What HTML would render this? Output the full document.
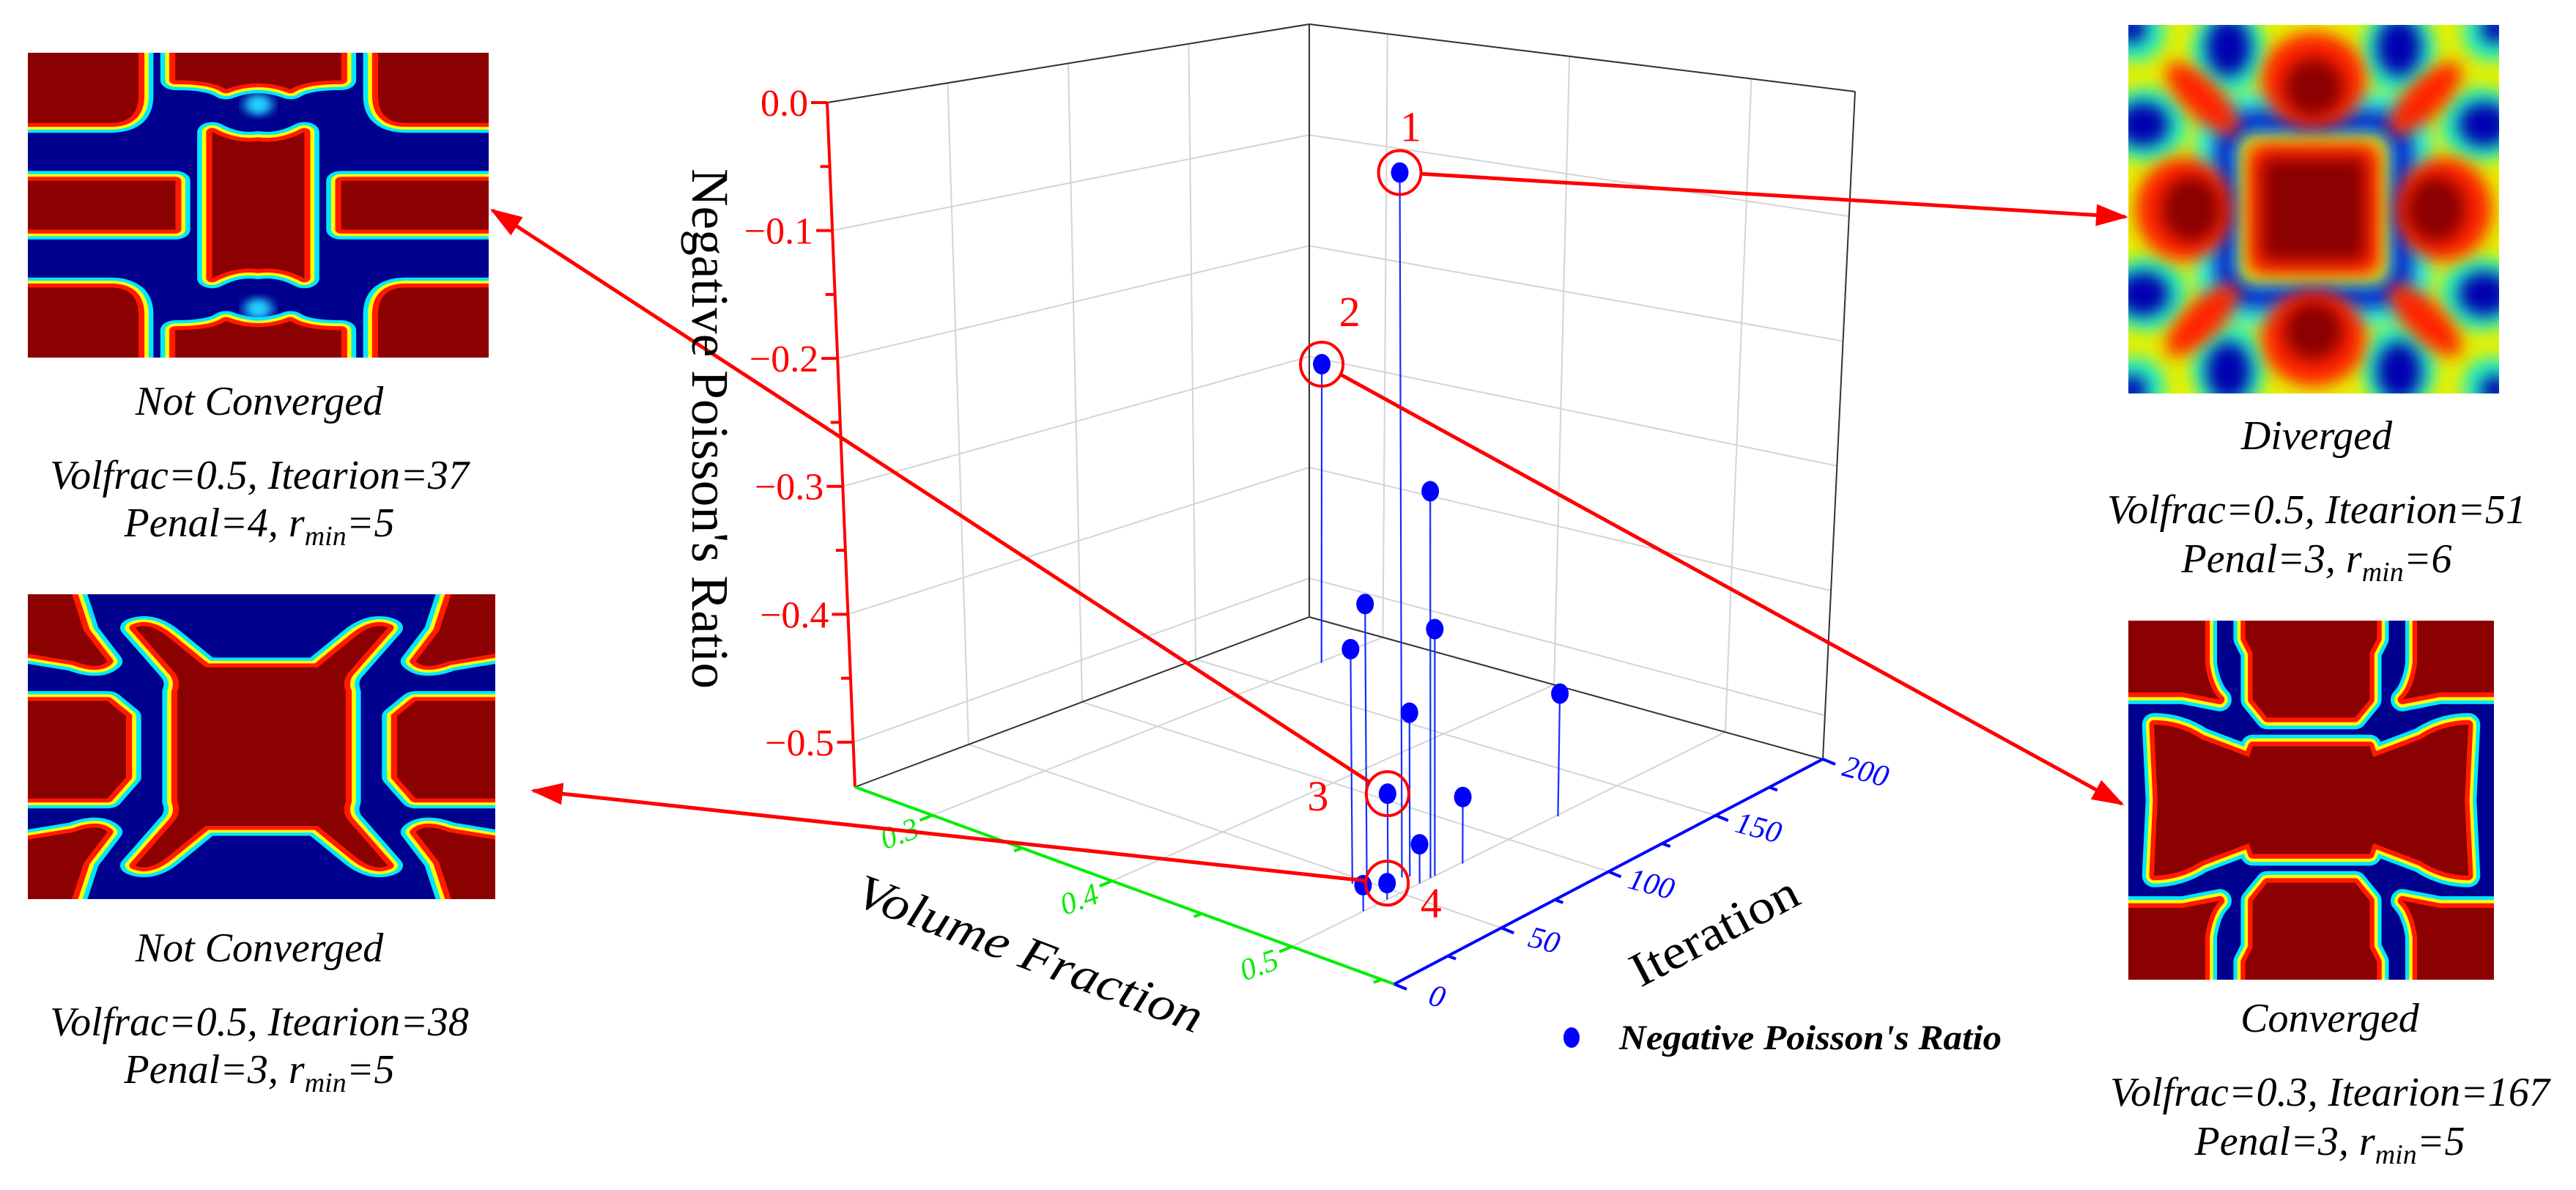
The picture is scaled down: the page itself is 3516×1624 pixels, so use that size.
<!DOCTYPE html>
<html><head><meta charset="utf-8"><style>
html,body{margin:0;padding:0;background:#fff;}
svg{display:block;}
.cap{font-family:"Liberation Serif",serif;font-style:italic;font-size:56px;fill:#000;}
</style></head><body>
<svg id="root" width="3516" height="1624" viewBox="0 0 3516 1624" xmlns="http://www.w3.org/2000/svg">
<defs>
<marker id="ah" markerUnits="userSpaceOnUse" markerWidth="44" markerHeight="30" refX="40" refY="15" orient="auto"><path d="M0,0 L44,15 L0,30 Z" fill="#ff0000"/></marker>
<filter id="bl" x="-20%" y="-20%" width="140%" height="140%"><feGaussianBlur stdDeviation="2.2"/></filter>
<filter id="bl2" x="-20%" y="-20%" width="140%" height="140%"><feGaussianBlur stdDeviation="1.2"/></filter>
</defs>

<svg x="38" y="72" width="629" height="416" viewBox="0 0 100 100" preserveAspectRatio="none">
<rect width="100" height="100" fill="#00008f"/>
<g class="reds">
<path d="M-2,-2 H24 V14 Q24,23 18,23 H-2 Z"/>
<path d="M32,-2 H68 V9 Q60,9 57,12 Q50,8 43,12 Q40,9 32,9 Z"/>
<path d="M76,-2 H102 V23 H82 Q76,23 76,14 Z"/>
<path d="M-2,42 H32 V58 H-2 Z"/>
<path d="M40,26 Q45,30 50,29 Q55,30 60,26 V74 Q55,70 50,71 Q45,70 40,74 Z"/>
<path d="M68,42 H102 V58 H68 Z"/>
<path d="M-2,77 H18 Q24,77 24,86 V102 H-2 Z"/>
<path d="M32,91 Q40,91 43,88 Q50,92 57,88 Q60,91 68,91 V102 H32 Z"/>
<path d="M76,86 Q76,77 82,77 H102 V102 H76 Z"/>
</g>
<ellipse cx="50" cy="17" rx="3" ry="3.5" fill="#20d0ff" filter="url(#bl2)"/>
<ellipse cx="50" cy="84" rx="3" ry="3.5" fill="#20d0ff" filter="url(#bl2)"/>
</svg>

<svg x="38" y="811" width="638" height="416" viewBox="0 0 100 100" preserveAspectRatio="none">
<rect width="100" height="100" fill="#00008f"/>
<g class="reds">
<path d="M-2,-2 H9 L12,12 L17,22 Q15,25 10,22 L-2,19 Z"/>
<path d="M91,-2 H102 V19 L90,22 Q85,25 83,22 L88,12 Z"/>
<path d="M-2,81 L10,78 Q15,75 17,78 L12,88 L9,102 H-2 Z"/>
<path d="M83,78 Q85,75 90,78 L102,81 V102 H91 L88,88 Z"/>
<path d="M-2,35 H17 L21,40 V60 L17,67 H-2 Z"/>
<path d="M102,35 H83 L79,40 V60 L83,67 H102 Z"/>
<path d="M23,11 Q26,9 30,14 L38,24 H62 L70,14 Q74,9 77,11 L69,25 Q67,28 68,32 V68 Q67,72 69,75 L77,89 Q74,91 70,86 L62,76 H38 L30,86 Q26,91 23,89 L31,75 Q33,72 32,68 V32 Q33,28 31,25 Z"/>
</g>
</svg>

<svg x="2905" y="34" width="506" height="503" viewBox="0 0 100 100" preserveAspectRatio="none">
<rect width="100" height="100" fill="#e8f000"/>
<g fill="#20f0c0" filter="url(#bl)">
<ellipse cx="2" cy="2" rx="8" ry="8"/><ellipse cx="27" cy="7" rx="10" ry="12"/><ellipse cx="73" cy="7" rx="10" ry="12"/><ellipse cx="98" cy="2" rx="8" ry="8"/>
<ellipse cx="5" cy="27" rx="11" ry="10"/><ellipse cx="95" cy="27" rx="11" ry="10"/><ellipse cx="5" cy="73" rx="11" ry="10"/><ellipse cx="95" cy="73" rx="11" ry="10"/>
<ellipse cx="2" cy="98" rx="8" ry="8"/><ellipse cx="27" cy="93" rx="10" ry="12"/><ellipse cx="73" cy="93" rx="10" ry="12"/><ellipse cx="98" cy="98" rx="8" ry="8"/>
</g>
<rect x="24" y="24" width="52" height="52" rx="8" fill="none" stroke="#30f0d0" stroke-width="12" filter="url(#bl)"/>
<g fill="#0000b0" filter="url(#bl)">
<ellipse cx="1" cy="1" rx="4" ry="4"/><ellipse cx="27" cy="6" rx="6" ry="8"/><ellipse cx="73" cy="6" rx="6" ry="8"/><ellipse cx="99" cy="1" rx="4" ry="4"/>
<ellipse cx="4" cy="27" rx="7" ry="6"/><ellipse cx="96" cy="27" rx="7" ry="6"/><ellipse cx="4" cy="73" rx="7" ry="6"/><ellipse cx="96" cy="73" rx="7" ry="6"/>
<ellipse cx="1" cy="99" rx="4" ry="4"/><ellipse cx="27" cy="94" rx="6" ry="8"/><ellipse cx="73" cy="94" rx="6" ry="8"/><ellipse cx="99" cy="99" rx="4" ry="4"/>
</g>
<rect x="26" y="26" width="48" height="48" rx="8" fill="none" stroke="#0010d0" stroke-width="5" filter="url(#bl)"/>
<g fill="#ff2000" filter="url(#bl)">
<ellipse cx="50" cy="15" rx="14" ry="13"/><ellipse cx="50" cy="85" rx="14" ry="13"/><ellipse cx="15" cy="50" rx="13" ry="14"/><ellipse cx="85" cy="50" rx="13" ry="14"/>
<ellipse cx="20" cy="20" rx="13" ry="5" transform="rotate(45 20 20)"/><ellipse cx="80" cy="20" rx="13" ry="5" transform="rotate(-45 80 20)"/>
<ellipse cx="20" cy="80" rx="13" ry="5" transform="rotate(-45 20 80)"/><ellipse cx="80" cy="80" rx="13" ry="5" transform="rotate(45 80 80)"/>
<rect x="32" y="32" width="36" height="36" rx="4"/>
</g>
<g fill="#8b0000" filter="url(#bl)">
<ellipse cx="50" cy="17" rx="8" ry="8"/><ellipse cx="50" cy="83" rx="8" ry="8"/><ellipse cx="17" cy="50" rx="8" ry="9"/><ellipse cx="83" cy="50" rx="8" ry="9"/>
<rect x="36" y="36" width="28" height="28" rx="2"/>
</g>
</svg>

<svg x="2905" y="847" width="499" height="490" viewBox="0 0 100 100" preserveAspectRatio="none">
<rect width="100" height="100" fill="#00008f"/>
<g class="reds">
<path d="M-2,-2 H21 V12 Q22,19 25,22 L15,20 H-2 Z"/>
<path d="M79,-2 H102 V20 H85 L75,22 Q78,19 79,12 Z"/>
<path d="M-2,80 H15 L25,78 Q22,81 21,88 V102 H-2 Z"/>
<path d="M75,78 L85,80 H102 V102 H79 V88 Q78,81 75,78 Z"/>
<path d="M32,-2 H68 V5 L66,9 V22 L62,27 H38 L34,22 V9 L32,5 Z"/>
<path d="M32,102 H68 V95 L66,91 V78 L62,73 H38 L34,78 V91 L32,95 Z"/>
<path d="M7,29 Q14,29 20,33 L33,38 L34,35 H66 L67,38 L80,33 Q86,29 93,29 L92,50 L93,71 Q86,71 80,67 L67,62 L66,65 H34 L33,62 L20,67 Q14,71 7,71 L8,50 Z"/>
</g>
</svg>

<g>
<text class="cap" x="354" y="566" text-anchor="middle">Not Converged</text>
<text class="cap" x="354" y="667" text-anchor="middle">Volfrac=0.5, Itearion=37</text>
<text class="cap" x="354" y="732" text-anchor="middle">Penal=4, r<tspan font-size="38" dy="12">min</tspan><tspan dy="-12">=5</tspan></text>
</g>
<g>
<text class="cap" x="354" y="1312" text-anchor="middle">Not Converged</text>
<text class="cap" x="354" y="1413" text-anchor="middle">Volfrac=0.5, Itearion=38</text>
<text class="cap" x="354" y="1478" text-anchor="middle">Penal=3, r<tspan font-size="38" dy="12">min</tspan><tspan dy="-12">=5</tspan></text>
</g>
<g>
<text class="cap" x="3162" y="613" text-anchor="middle">Diverged</text>
<text class="cap" x="3162" y="714" text-anchor="middle">Volfrac=0.5, Itearion=51</text>
<text class="cap" x="3162" y="781" text-anchor="middle">Penal=3, r<tspan font-size="38" dy="12">min</tspan><tspan dy="-12">=6</tspan></text>
</g>
<g>
<text class="cap" x="3180" y="1408" text-anchor="middle">Converged</text>
<text class="cap" x="3180" y="1509" text-anchor="middle">Volfrac=0.3, Itearion=167</text>
<text class="cap" x="3180" y="1576" text-anchor="middle">Penal=3, r<tspan font-size="38" dy="12">min</tspan><tspan dy="-12">=5</tspan></text>
</g>

<g id="chart"></g>

<text transform="translate(945,585) rotate(90)" text-anchor="middle" font-family="Liberation Serif, serif" font-size="72" textLength="710" lengthAdjust="spacingAndGlyphs">Negative Poisson's Ratio</text>
<text transform="translate(1398,1322) rotate(20.7)" text-anchor="middle" font-family="Liberation Serif, serif" font-style="italic" font-size="66" textLength="500" lengthAdjust="spacingAndGlyphs">Volume Fraction</text>
<text transform="translate(2350,1290) rotate(-27.6)" text-anchor="middle" font-family="Liberation Serif, serif" font-size="66" textLength="250" lengthAdjust="spacingAndGlyphs">Iteration</text>

<g>
<ellipse cx="2145" cy="1416" rx="11" ry="14" fill="#0000ff"/>
<text x="2210" y="1432" font-family="Liberation Serif, serif" font-style="italic" font-weight="bold" font-size="48" textLength="522" lengthAdjust="spacingAndGlyphs">Negative Poisson's Ratio</text>
</g>
</svg>

<script>
const vfVals   = [0.49, 0.301, 0.487, 0.50, 0.478, 0.48, 0.50, 0.50, 0.501, 0.501, 0.492, 0.50, 0.50];
const iterVals = [59, 172, 55, 44, 46, 51, 33, 59, 78, 122, 61, 66, 64];
const nprVals  = [-0.01, -0.276, -0.471, -0.523, -0.361, -0.33, -0.516, -0.506, -0.485, -0.44, -0.413, -0.351, -0.247];
const annotLabels = ['1', '2', '3', '4'];
const zTicks = [0.0, -0.1, -0.2, -0.3, -0.4, -0.5];
const zTickLabels = ['0.0', '\u22120.1', '\u22120.2', '\u22120.3', '\u22120.4', '\u22120.5'];
const vfTicks = [0.3, 0.4, 0.5];
const vfTickLabels = ['0.3', '0.4', '0.5'];
const iterTicks = [0, 50, 100, 150, 200];
const iterTickLabels = ['0', '50', '100', '150', '200'];

const VF0 = 0.257, VF1 = 0.557, IT0 = 0, IT1 = 200, Z0 = -0.535, Z1 = 0;
function su(vf) { return (vf - VF0) / (VF1 - VF0); }
function sv(it) { return (it - IT0) / (IT1 - IT0); }
function sw(z) { return (z - Z0) / (Z1 - Z0); }
const BOT = [[1167,1074],[1903,1343],[2488,1036],[1787,842]];
const TOP = [[1129,140],[1890,300],[2532,125],[1787,33]];
function bil(q, u, v) {
  const a = (1-u)*(1-v), b = u*(1-v), c = u*v, d = (1-u)*v;
  return [q[0][0]*a+q[1][0]*b+q[2][0]*c+q[3][0]*d, q[0][1]*a+q[1][1]*b+q[2][1]*c+q[3][1]*d];
}
function proj(u, v, w) {
  const p = bil(BOT, u, v), t = bil(TOP, u, v);
  return [p[0] + (t[0]-p[0])*w, p[1] + (t[1]-p[1])*w];
}
const NS = 'http://www.w3.org/2000/svg';
const chart = document.getElementById('chart');
function mk(tag, attrs, parent) {
  const e = document.createElementNS(NS, tag);
  for (const k in attrs) e.setAttribute(k, attrs[k]);
  (parent || chart).appendChild(e);
  return e;
}
function line(p, q, stroke, sw_) {
  return mk('line', {x1:p[0], y1:p[1], x2:q[0], y2:q[1], stroke:stroke, 'stroke-width':sw_});
}

const gridCol = '#d4d4d4';
zTicks.forEach(z => {
  const w = sw(z);
  const g1 = line(proj(0,0,w), proj(0,1,w), gridCol, 2);
  
  
  const g2 = line(proj(0,1,w), proj(1,1,w), gridCol, 2);
  
  
});
iterTicks.forEach(it => {
  const v = sv(it);
  const g1 = line(proj(0,v,0), proj(0,v,1), gridCol, 2);
  
  
  const g2 = line(proj(0,v,0), proj(1,v,0), gridCol, 2);
  
  
});
vfTicks.forEach(vf => {
  const u = su(vf);
  const g1 = line(proj(u,1,0), proj(u,1,1), gridCol, 2);
  
  
  const g2 = line(proj(u,0,0), proj(u,1,0), gridCol, 2);
  
  
});

[[[0,0,1],[0,1,1]], [[0,1,1],[1,1,1]], [[0,1,0],[0,1,1]], [[1,1,0],[1,1,1]], [[0,0,0],[0,1,0]], [[0,1,0],[1,1,0]]].forEach(e => {
  const l = line(proj(...e[0]), proj(...e[1]), '#333', 2);
  
  
});

const zAx = line(proj(0,0,0), proj(0,0,1), '#ff0000', 4);


const xAx = line(proj(0,0,0), proj(1,0,0), '#00ee00', 4);


const yAx = line(proj(1,0,0), proj(1,1,0), '#0000ff', 4);



zTicks.forEach((z, i) => {
  const p = proj(0,0,sw(z));
  const t = line([p[0]-22, p[1]], p, '#ff0000', 4);
  
  
  if (i < zTicks.length - 1) {
    const pm = proj(0,0,sw(z - 0.05));
    const tm = line([pm[0]-13, pm[1]], pm, '#ff0000', 4);
    
    
  }
  const lb = mk('text', {x:p[0]-26, y:p[1]+18, 'text-anchor':'end', 'font-family':'Liberation Serif, serif', 'font-size':52, fill:'#ff0000'});
  lb.textContent = zTickLabels[i];
  
  
});

vfTicks.forEach((vf, i) => {
  const p = proj(su(vf),0,0);
  const t = line(p, [p[0]-17, p[1]+7], '#00ee00', 4);
  
  
  const pm = proj(su(vf+0.05),0,0);
  const tm = line(pm, [pm[0]-11, pm[1]+4], '#00ee00', 4);
  
  
  const lb = mk('text', {transform:`translate(${p[0]-40},${p[1]+38}) rotate(-20)`, 'text-anchor':'middle', 'font-family':'Liberation Serif, serif', 'font-style':'italic', 'font-size':42, fill:'#00ee00'});
  lb.textContent = vfTickLabels[i];
  
  
});

iterTicks.forEach((it, i) => {
  const p = proj(1,sv(it),0);
  const t = line(p, [p[0]+17, p[1]+7], '#0000ff', 4);
  
  
  if (i < iterTicks.length - 1) {
    const pm = proj(1,sv(it+25),0);
    const tm = line(pm, [pm[0]+11, pm[1]+4], '#0000ff', 4);
    
    
  }
  const lb = mk('text', {transform:`translate(${p[0]+55},${p[1]+30}) rotate(15)`, 'text-anchor':'middle', 'font-family':'Liberation Serif, serif', 'font-style':'italic', 'font-size':42, fill:'#0000ff'});
  lb.textContent = iterTickLabels[i];
  
  
});

const pts = vfVals.map((vf, i) => {
  const u = su(vf), v = sv(iterVals[i]), w = sw(nprVals[i]);
  return {b: proj(u,v,0), t: proj(u,v,w)};
});
pts.forEach(p => {
  const s = line(p.b, p.t, '#1030ff', 2.2);
  
  
});
pts.forEach(p => {
  const d = mk('ellipse', {cx:p.t[0], cy:p.t[1], rx:12, ry:14, fill:'#0000ff'});
  
  
});

const annotTargets = [[2901,296],[2896,1097],[672,287],[728,1079]];
const annotLabelOff = [[15,-63],[38,-72],[-95,3],[60,27]];
annotLabels.forEach((lab, i) => {
  const c = pts[i].t;
  const ring = mk('ellipse', {cx:c[0], cy:c[1], rx:29, ry:30, fill:'none', stroke:'#ff0000', 'stroke-width':4});
  
  
  const tg = annotTargets[i];
  const dx = tg[0]-c[0], dy = tg[1]-c[1], L = Math.hypot(dx, dy);
  const s = [c[0]+dx/L*30, c[1]+dy/L*30];
  const ar = mk('line', {x1:s[0], y1:s[1], x2:tg[0], y2:tg[1], stroke:'#ff0000', 'stroke-width':5, 'marker-end':'url(#ah)'});
  
  
  const t = mk('text', {x:c[0]+annotLabelOff[i][0], y:c[1]+annotLabelOff[i][1]+20, 'text-anchor':'middle', 'font-family':'Liberation Serif, serif', 'font-size':58, fill:'#ff0000'});
  t.textContent = lab;
  
  
});

document.querySelectorAll('g.reds').forEach(g => {
  const paths = Array.from(g.querySelectorAll('path'));
  const layers = [['#00e8ff',6.5],['#ffff00',4.4],['#ff1a00',2.6]];
  const frag = document.createElementNS(NS, 'g');
  layers.forEach(([col, w]) => {
    paths.forEach(p => {
      const q = p.cloneNode();
      q.setAttribute('fill', 'none');
      q.setAttribute('stroke', col);
      q.setAttribute('stroke-width', w);
      q.setAttribute('stroke-linejoin', 'round');
      frag.appendChild(q);
    });
  });
  paths.forEach(p => {
    const q = p.cloneNode();
    q.setAttribute('fill', '#8b0000');
    frag.appendChild(q);
  });
  paths.forEach(p => p.remove());
  g.appendChild(frag);
});
</script>
</body></html>
